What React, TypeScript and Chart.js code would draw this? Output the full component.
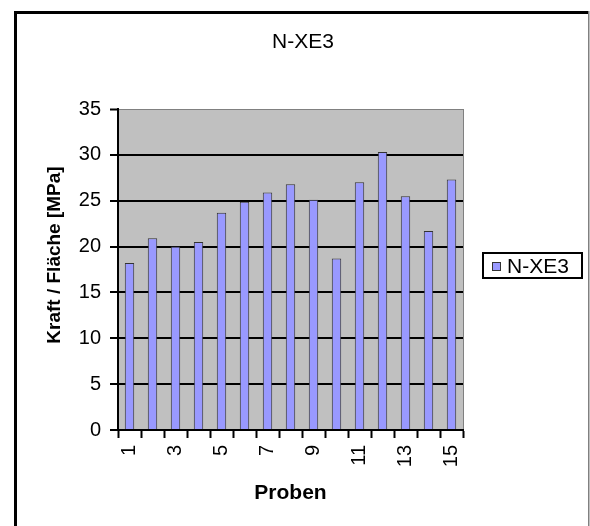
import React, { useEffect, useRef } from "react";
import { Chart, registerables } from "chart.js";

Chart.register(...registerables);

const chartTitle = "N-XE3";
const seriesName = "N-XE3";
const categories = ["1", "2", "3", "4", "5", "6", "7", "8", "9", "10", "11", "12", "13", "14", "15"];
const values = [18.2, 20.9, 20.0, 20.5, 23.7, 24.9, 25.9, 26.8, 25.1, 18.7, 27.0, 30.3, 25.5, 21.7, 27.3];
const yTicks = [0, 5, 10, 15, 20, 25, 30, 35];
const yTitle = "Kraft / Fläche [MPa]";
const xTitle = "Proben";

const FONT = "'Liberation Sans', Arial, sans-serif";

const framePlugin = {
  id: "frame",
  beforeDraw(chart: any) {
    const { ctx, chartArea } = chart;
    ctx.save();
    ctx.fillStyle = "#ffffff";
    ctx.fillRect(0, 0, chart.width, chart.height);
    ctx.fillStyle = "#c0c0c0";
    ctx.fillRect(chartArea.left, chartArea.top, chartArea.right - chartArea.left, chartArea.bottom - chartArea.top);
    // right plot border
    ctx.strokeStyle = "#808080";
    ctx.lineWidth = 1;
    ctx.beginPath();
    ctx.moveTo(Math.round(chartArea.right) + 0.5, chartArea.top);
    ctx.lineTo(Math.round(chartArea.right) + 0.5, chartArea.bottom);
    ctx.stroke();
    ctx.restore();
  },
  afterDraw(chart: any) {
    const { ctx } = chart;
    ctx.save();
    // outer frame
    ctx.fillStyle = "#000000";
    ctx.fillRect(14, 11, 575, 3);
    ctx.fillRect(14, 11, 3, chart.height - 11);
    ctx.fillStyle = "#808080";
    ctx.fillRect(588, 11, 1.5, chart.height - 11);

    // y axis title
    ctx.fillStyle = "#000000";
    ctx.font = "bold 19px " + FONT;
    ctx.textAlign = "center";
    ctx.textBaseline = "middle";
    ctx.translate(55, 255);
    ctx.rotate(-Math.PI / 2);
    ctx.fillText(yTitle, 0, 0);
    ctx.setTransform(1, 0, 0, 1, 0, 0);

    // legend
    const ds = chart.data.datasets[0];
    ctx.fillStyle = "#ffffff";
    ctx.fillRect(483, 253, 99, 25);
    ctx.strokeStyle = "#000000";
    ctx.lineWidth = 2;
    ctx.strokeRect(483, 253, 99, 25);
    ctx.fillStyle = ds.backgroundColor;
    ctx.fillRect(492, 262, 8, 8);
    ctx.strokeStyle = "#333333";
    ctx.lineWidth = 1;
    ctx.strokeRect(492.5, 262.5, 8, 8);
    ctx.fillStyle = "#000000";
    ctx.font = "21px " + FONT;
    ctx.textAlign = "left";
    ctx.textBaseline = "middle";
    ctx.fillText(ds.label, 507, 267);
    ctx.restore();
  },
};

export default function App() {
  const ref = useRef<HTMLCanvasElement>(null);
  useEffect(() => {
    if (!ref.current) return;
    const chart = new Chart(ref.current, {
      type: "bar",
      data: {
        labels: categories,
        datasets: [
          {
            label: seriesName,
            data: values,
            backgroundColor: "#9999ff",
            borderColor: "#333333",
            borderWidth: 1,
            categoryPercentage: 1,
            barPercentage: 0.41,
          },
        ],
      },
      options: {
        responsive: false,
        animation: false,
        devicePixelRatio: 1,
        layout: { padding: { left: 16, right: 0, top: 0, bottom: 0 } },
        plugins: {
          legend: { display: false },
          tooltip: { enabled: false },
          title: {
            display: true,
            text: chartTitle,
            color: "#000000",
            font: { family: FONT, size: 21, weight: "normal" },
            padding: { top: 30, bottom: 53.8 },
          },
        },
        scales: {
          x: {
            type: "category",
            offset: true,
            grid: {
              offset: true,
              drawOnChartArea: false,
              drawTicks: true,
              tickLength: 8,
              tickColor: "#000000",
              tickWidth: 2,
            },
            border: { display: true, color: "#000000", width: 2 },
            ticks: {
              autoSkip: false,
              maxRotation: 90,
              minRotation: 90,
              padding: 7,
              color: "#000000",
              font: { family: FONT, size: 20 },
              callback: (_v: any, i: number) => (i % 2 === 0 ? categories[i] : ""),
            },
            title: {
              display: true,
              text: xTitle,
              color: "#000000",
              font: { family: FONT, size: 21, weight: "bold" },
              padding: { top: 0, bottom: 20.4 },
            },
            afterFit(scale: any) {
              scale.height = 96;
            },
          },
          y: {
            min: 0,
            max: 35,
            afterBuildTicks(scale: any) {
              scale.ticks = yTicks.map((v) => ({ value: v }));
            },
            grid: {
              color: (c: any) => (c.tick && c.tick.value === 35 ? "#808080" : "#000000"),
              lineWidth: (c: any) => (c.tick && c.tick.value === 35 ? 1 : 2),
              drawTicks: true,
              tickLength: 8,
              tickColor: "#000000",
              tickWidth: 2,
            },
            border: { display: true, color: "#000000", width: 2 },
            ticks: {
              padding: 9,
              color: "#000000",
              font: { family: FONT, size: 20 },
            },
            afterFit(scale: any) {
              scale.width = 102;
            },
          },
          y2: {
            type: "linear",
            position: "right",
            display: true,
            grid: { display: false, drawTicks: false },
            border: { display: false },
            ticks: { display: false },
            afterFit(scale: any) {
              scale.width = 127;
            },
          },
        },
      },
      plugins: [framePlugin],
    });
    return () => chart.destroy();
  }, []);
  return (
    <div style={{ position: "absolute", left: 0, top: 0, width: 590, height: 526 }}>
      <canvas ref={ref} width={590} height={526} style={{ display: "block" }} />
    </div>
  );
}
